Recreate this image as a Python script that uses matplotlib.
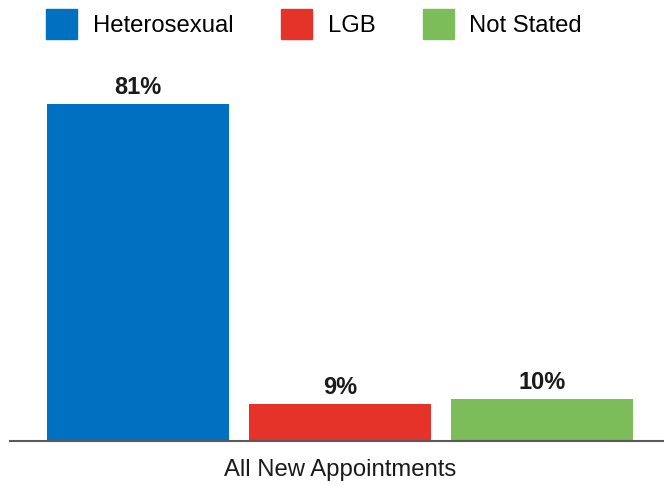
import numpy as np
import matplotlib.pyplot as plt
from matplotlib import font_manager as fm
from matplotlib.patches import Patch

# make sure the regular (not narrow) Liberation Sans is used
fam = 'Liberation Sans'
for p in fm.findSystemFonts():
    if p.endswith('LiberationSans-Regular.ttf'):
        fm.fontManager.addfont(p)
        fam = fm.FontProperties(fname=p).get_name()
        break
plt.rcParams['font.family'] = [fam, 'DejaVu Sans']

groups = ['Heterosexual', 'LGB', 'Not Stated']
values = [81, 9, 10]
colors = ['#0070C0', '#E5332A', '#7CBD5A']
category = 'All New Appointments'

W, H = 664, 486
fig = plt.figure(figsize=(W / 100, H / 100), dpi=100)
ax = fig.add_axes([10 / W, 45 / H, 654 / W, 416 / H])

x = np.arange(len(groups)) - 1
bars = ax.bar(x, values, width=0.9, color=colors)
for b, v in zip(bars, values):
    ax.text(b.get_x() + b.get_width() / 2, v + 1.2, f'{v}%', ha='center', va='bottom',
            fontsize=17, fontweight='bold', color='#1a1a1a')

ax.set_xlim(-1.634, 1.604)
ax.set_ylim(0, 100)
ax.set_yticks([])
ax.set_xticks([0], [category], fontsize=17.2, color='#1a1a1a')
ax.tick_params(axis='x', length=0, pad=13)
for s in ['top', 'right', 'left']:
    ax.spines[s].set_visible(False)
ax.spines['bottom'].set_color('#595959')
ax.spines['bottom'].set_linewidth(1.5)

handles = [Patch(color=c) for c in colors]
fig.legend(handles, groups, loc='center left', bbox_to_anchor=(46 / W, 1 - 24 / H),
           ncol=3, frameon=False, fontsize=17.2, handlelength=1.3, handleheight=1.58,
           handletextpad=0.66, columnspacing=1.98, borderpad=0, borderaxespad=0)

fig.savefig('out.png', dpi=100)
